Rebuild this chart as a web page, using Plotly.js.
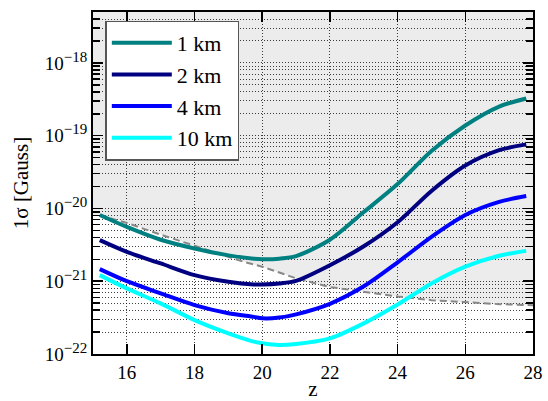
<!DOCTYPE html>
<html>
<head>
<meta charset="utf-8">
<script src="https://cdn.plot.ly/plotly-3.0.1.min.js"></script>
<style>html,body{margin:0;padding:0;background:#fff;}#chart{width:548px;height:401px;}</style>
</head>
<body>
<div id="chart"></div>
<script>
// Redshift grid (z) and log10(1 sigma [Gauss]) for each baseline
const z = [15.2, 16, 17, 18, 19, 19.75, 20, 20.5, 21, 22, 23, 24, 25, 26, 27, 27.8];
const sigma1km  = [-20.09, -20.254, -20.43, -20.55, -20.645, -20.69, -20.697, -20.69, -20.656, -20.43, -20.05, -19.665, -19.21, -18.86, -18.6, -18.49];
const sigma2km  = [-20.436, -20.597, -20.756, -20.916, -21.008, -21.044, -21.044, -21.03, -20.995, -20.78, -20.52, -20.19, -19.76, -19.41, -19.2, -19.12];
const sigma4km  = [-20.834, -21.0, -21.167, -21.328, -21.44, -21.49, -21.51, -21.5, -21.455, -21.31, -21.07, -20.74, -20.39, -20.09, -19.91, -19.83];
const sigma10km = [-20.916, -21.099, -21.305, -21.534, -21.716, -21.83, -21.853, -21.877, -21.863, -21.785, -21.579, -21.32, -21.03, -20.80, -20.65, -20.583];
const seriesNames = ['1 km', '2 km', '4 km', '10 km'];
const seriesColors = ['#008080', '#000080', '#0000ff', '#00ffff'];

// dashed boundary of the shaded region
const limitZ   = [15.2, 16, 17, 18, 19, 19.5, 20, 21, 22, 23, 24, 25, 26, 27, 28];
const limitLog = [-20.09, -20.2, -20.36, -20.515, -20.66, -20.74, -20.8, -20.96, -21.08, -21.15, -21.21, -21.26, -21.29, -21.315, -21.33];

const xTickVals = [16, 18, 20, 22, 24, 26, 28];
const yDecades = [-22, -21, -20, -19, -18];

const yTop = -17.301, yBottom = -22;
const pw = v => Math.pow(10, v);

const yTickVals = yDecades.map(pw);
const yTickText = yDecades.map(d => '10<sup><span style="font-size:15px">\u2212' + Math.abs(d) + '</span></sup>');
const yMinor = [];
yDecades.forEach(d => { for (let k = 2; k <= 9; k++) { const v = k * pw(d); if (Math.log10(v) < yTop) yMinor.push(v); } });

const FONT = 'Liberation Serif, Times New Roman, serif';

const traces = [];
// shading: lower boundary (invisible), then top with fill
const shadeX = [15].concat(limitZ);
const shadeY = [limitLog[0]].concat(limitLog).map(pw);
traces.push({x: shadeX, y: shadeY, mode: 'lines', line: {width: 0, color: 'rgba(0,0,0,0)'}, showlegend: false, hoverinfo: 'skip'});
traces.push({x: shadeX, y: shadeX.map(() => pw(yTop + 1)), mode: 'lines', line: {width: 0, color: 'rgba(0,0,0,0)'},
  fill: 'tonexty', fillcolor: 'rgba(0,0,0,0.075)', showlegend: false, hoverinfo: 'skip'});
traces.push({x: limitZ, y: limitLog.map(pw), mode: 'lines', line: {color: '#888888', width: 2, dash: '7px,4px'}, showlegend: false});

[sigma1km, sigma2km, sigma4km, sigma10km].forEach((s, i) => {
  traces.push({x: z, y: s.map(pw), mode: 'lines', name: seriesNames[i],
    line: {color: seriesColors[i], width: 4, shape: 'spline', smoothing: 0.8}});
});

const gridDash = '1px,2px';
const layout = {
  width: 548, height: 401,
  margin: {l: 93, r: 15, t: 12, b: 47, pad: 0},
  paper_bgcolor: '#ffffff', plot_bgcolor: '#ffffff',
  font: {family: FONT, color: '#000', size: 18},
  showlegend: true,
  legend: {x: 0.028, y: 0.975, xanchor: 'left', yanchor: 'top', bgcolor: '#ffffff', traceorder: 'normal',
    bordercolor: '#555555', borderwidth: 1.5, font: {size: 22, family: FONT, color: '#000'},
    itemwidth: 60, tracegroupgap: 0},
  xaxis: {
    range: [15, 28], tickmode: 'array', tickvals: xTickVals, ticktext: xTickVals.map(String),
    ticks: 'inside', ticklen: 10, tickwidth: 1.5, tickcolor: '#000',
    showline: true, linecolor: '#000', linewidth: 2, mirror: 'allticks',
    showgrid: true, gridcolor: 'rgba(0,0,0,0.75)', gridwidth: 1, griddash: gridDash,
    zeroline: false, tickfont: {size: 19, family: FONT, color: '#000'},
    title: {text: 'z', font: {size: 21, family: FONT, color: '#000'}, standoff: 4}
  },
  yaxis: {
    type: 'log', range: [yBottom, yTop], tickmode: 'array', tickvals: yTickVals, ticktext: yTickText,
    ticks: 'inside', ticklen: 10, tickwidth: 1.5, tickcolor: '#000',
    showline: true, linecolor: '#000', linewidth: 2, mirror: 'allticks',
    showgrid: true, gridcolor: 'rgba(0,0,0,0.75)', gridwidth: 1, griddash: gridDash,
    minor: {tickmode: 'array', tickvals: yMinor, ticks: 'inside', ticklen: 7, tickwidth: 1.5, tickcolor: '#000',
      showgrid: true, gridcolor: 'rgba(0,0,0,0.75)', gridwidth: 1, griddash: gridDash},
    zeroline: false, tickfont: {size: 19, family: FONT, color: '#000'},
    title: {text: '1\u03c3 [Gauss]', font: {size: 21, family: FONT, color: '#000'}, standoff: 10}
  }
};
Plotly.newPlot('chart', traces, layout, {staticPlot: true, displayModeBar: false});
</script>
</body>
</html>
